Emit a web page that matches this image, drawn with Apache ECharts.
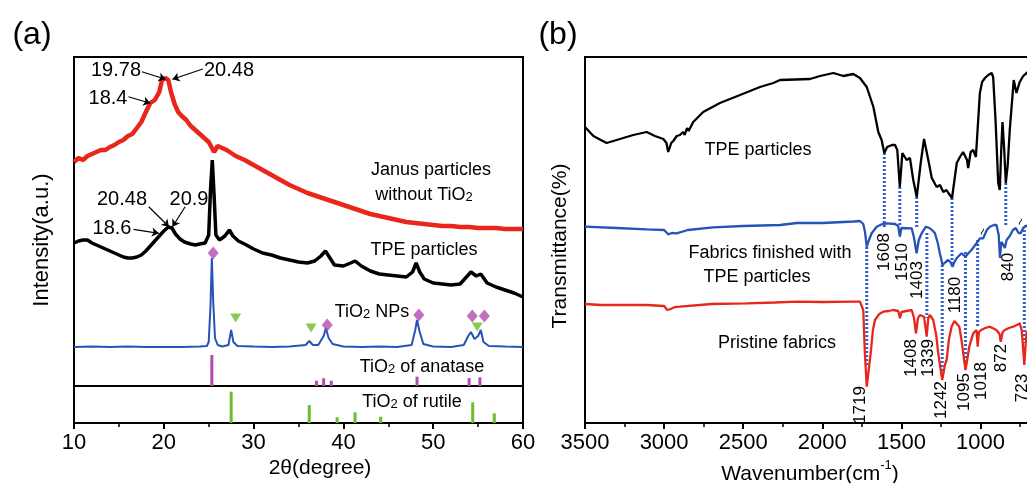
<!DOCTYPE html>
<html><head><meta charset="utf-8">
<script src="https://cdn.jsdelivr.net/npm/echarts@6/dist/echarts.min.js"></script>
<style>html,body{margin:0;padding:0;background:#fff}#c{width:1027px;height:483px}</style>
</head><body><div id="c"></div>
<script>
// ---------- Panel (a): XRD, [2theta (deg), intensity (a.u.)] ----------
const janusXRD = [[10,224],[10.5,228],[11,226],[11.5,230],[12,232],[12.5,234],[13,236],[13.5,236],[14,239],[14.5,241],[15,244],[15.5,246],[16,250],[16.5,252],[17,258],[17.5,264],[18,274],[18.5,283],[19,286],[19.5,294],[19.8,306],[20.2,308],[20.5,306],[20.8,294],[21.2,282],[21.6,274],[22,270],[22.5,266],[23,260],[23.5,256],[24,252],[24.5,248],[25,244],[25.6,234],[26,240],[27,236],[28,230],[29,226],[30,221],[31,216],[32,211],[33,206],[34,201],[35,197],[36,193],[37,190],[38,187],[39,184],[40,181],[41,178],[42,175],[43,172],[44,170],[45,168],[46,166],[47,164],[48,163],[49,162],[50,161],[51,160],[52,160],[53,159],[54,159],[55,158],[56,158],[57,158],[58,157],[59,157],[60,157]];
const tpeXRD = [[10,143],[10.5,145],[11,146],[11.5,146],[12,143],[12.5,141],[13,139],[13.5,137],[14,135],[14.5,133],[15,131],[15.5,129],[16,128],[16.5,128],[17,129],[17.5,131],[18,135],[18.6,141],[19,145],[19.5,150],[20,155],[20.5,159],[20.9,158],[21.3,152],[21.8,147],[22.3,144],[23,142],[23.5,141],[24,142],[24.6,143],[25,151],[25.2,196],[25.4,226],[25.6,191],[25.8,151],[26.2,146],[26.8,150],[27.3,156],[27.7,150],[28.3,145],[29,142],[30,137],[31,133],[32,131],[33,128],[34,126],[35,124],[36,123],[36.8,125],[37.5,130],[38,135],[38.5,128],[39,121],[40,120],[40.8,123],[41.3,125],[42,120],[43,115],[44,112],[45,111],[46,110],[47,109],[47.7,114],[48.1,123],[48.5,114],[49,107],[50,103],[51,102],[52,101],[53,102],[53.6,108],[54.2,114],[54.8,110],[55.3,112],[56,103],[57,99],[58,96],[59,93],[60,89]];
const tio2XRD = [[10,39],[12,39.5],[14,39],[16,39.5],[18,39],[20,39],[22,39],[24,39.5],[24.8,40],[25,44],[25.2,80],[25.35,128],[25.5,85],[25.7,48],[26,41],[26.5,39.5],[27.2,41],[27.5,56],[27.75,44],[28.2,40],[30,39.5],[32,39],[34,39.5],[35.8,41],[36.2,45],[36.6,41],[37.2,41],[37.8,50],[38.05,58],[38.35,48],[38.8,42],[40,39.5],[42,39],[44,39.5],[46,39],[47.6,41],[48,56],[48.2,66],[48.5,54],[48.9,42],[50,39.5],[52,39],[53.4,41],[53.9,50],[54.2,54],[54.6,47],[55,50],[55.3,56],[55.6,44],[56.2,40],[58,39.5],[60,39]];
const anataseMarks = [[25.5,133],[38.2,61],[48.4,71],[54.35,70],[55.7,70]];
const rutileMarks = [[28.0,68],[36.4,58],[54.9,59]];
const anataseRef = [[25.35,31],[37.0,5.3],[37.8,7.7],[38.65,5.3],[48.2,9.3],[54.0,8],[55.2,8.7]];
const rutileRef = [[27.5,31.3],[36.2,18],[39.3,5.7],[41.3,10.7],[44.15,6.3],[54.4,20.7],[56.8,9.7]];
const xrdTicks = [10, 20, 30, 40, 50, 60];
// peak annotations: [label, [from], [to]]
const xrdArrows = [
  ['19.78', [17.57,314.3], [20.2,306.7]],
  ['20.48', [24.34,317], [20.96,306.7]],
  ['18.4',  [16.06,289.3], [18.5,282.7]],
  ['20.48', [18.32,179.3], [20.58,159.3]],
  ['20.9',  [22.38,179.3], [20.96,159.3]],
  ['18.6',  [16.63,156.7], [19.45,152.7]]
];

// ---------- Panel (b): FTIR, [wavenumber (cm-1), transmittance (a.u.)] ----------
const tpeFTIR = [[3500,296],[3447,287],[3400,283],[3363,280],[3279,284],[3195,288],[3110,291],[3058,287],[3005,284],[2985,280],[2974,271],[2955,280],[2942,282],[2920,287],[2900,288],[2880,291],[2870,288],[2855,295],[2845,292],[2816,301],[2753,311],[2647,320],[2520,328],[2394,336],[2310,340],[2267,343],[2078,344],[2014,347],[1930,350],[1867,347],[1804,349],[1762,345],[1719,336],[1677,316],[1646,291],[1625,283],[1608,270],[1590,276],[1560,278],[1540,278],[1526,273],[1510,236],[1494,270],[1467,263],[1446,265],[1425,243],[1403,226],[1378,260],[1357,284],[1330,263],[1308,245],[1277,236],[1256,238],[1235,231],[1215,233],[1203,230],[1180,225],[1150,260],[1130,266],[1110,271],[1099,273],[1085,263],[1078,255],[1062,271],[1046,273],[1029,266],[1004,330],[990,341],[972,345],[951,348],[930,350],[920,346],[905,303],[888,240],[878,233],[869,273],[861,301],[850,273],[840,240],[828,258],[815,293],[790,343],[773,330],[752,341],[730,347],[709,350],[700,351]];
const finishedFTIR = [[3500,196.3],[3300,195],[3110,193.7],[3000,193],[2974,188.7],[2950,190],[2921,189.7],[2850,193],[2690,195.7],[2500,197],[2267,198],[2160,200],[2152,199],[2000,200],[1800,201.5],[1762,202],[1741,199],[1730,191],[1719,176.3],[1705,183],[1688,189.7],[1656,196.3],[1620,199],[1593,199.7],[1540,199],[1520,197],[1510,186.3],[1500,195],[1488,196.3],[1435,194.7],[1420,185],[1404,169.7],[1390,183],[1372,189.7],[1345,196.3],[1320,194.7],[1300,192],[1288,189.7],[1270,180],[1257,169.7],[1240,158],[1220,161],[1204,163],[1190,161],[1177,156.3],[1165,161],[1151,164.7],[1120,169.7],[1095,166.3],[1075,170],[1057,173],[1025,179.7],[1004,184.7],[983,184.7],[960,193],[941,196.3],[915,198],[899,198],[885,188],[877,165],[868,181],[855,178],[846,175],[835,183],[815,187],[795,193],[777,195],[760,190],[745,190],[730,195],[715,197],[700,197]];
const pristineFTIR = [[3500,119],[3400,118],[3200,118],[3110,118],[3000,117],[2980,113],[2974,111.3],[2960,114],[2930,116],[2900,116.3],[2700,119],[2478,119.7],[2300,120.5],[2161,121.3],[2000,121],[1800,121.3],[1762,121.3],[1751,119.7],[1741,113],[1731,70],[1719,36.3],[1694,70],[1680,93],[1667,103],[1640,109],[1614,111.3],[1580,112],[1551,113],[1520,112],[1509,104.7],[1500,111],[1488,111.3],[1435,113],[1420,105],[1408,89.7],[1395,105],[1383,108],[1357,106.3],[1340,86.3],[1330,105],[1320,108],[1299,103],[1280,88],[1267,69.7],[1242,43],[1225,58],[1214,63],[1200,83],[1183,96.3],[1165,102],[1155,103],[1134,96.3],[1120,83],[1109,69.7],[1095,53],[1080,67],[1071,76.3],[1046,89.7],[1025,93],[1018,76.3],[1010,91],[996,93],[970,95],[941,96.3],[899,93],[880,89],[872,81.3],[860,91],[846,93],[820,95],[794,96.3],[770,98],[752,99.7],[740,93],[733,79.7],[723,58],[715,78],[709,89.7],[700,93]];
// dotted guide lines: [wavenumber, upper value, lower value]
const ftirGuides = [[1608,270,196],[1510,236,198],[1403,226,196],[1180,225,160],[840,240,197],[1719,176,56],[1339,190,105],[1242,158,46],[1095,171,56],[1018,183,96],[723,193,80]];
// band labels: [text, wavenumber of label, label centre value]
const ftirBandLabels = [['1608',1608,171],['1510',1497,161],['1403',1398,143],['1180',1159,128],['840',825,156],['1719',1760,18],['1408',1438,65],['1339',1333,65],['1242',1247,23],['1095',1102,31],['1018',997,42],['872',870,65],['723',733,35]];
const ftirTicks = [3500, 3000, 2500, 2000, 1500, 1000];

const FONT = '"Liberation Sans", Arial, Helvetica, sans-serif';
const RED = '#e8261c', BLUE = '#2653b8', BLACK = '#000', PURPLE = '#b04cae', GREEN = '#6cbd2b', GUIDE = '#2f5fcc';

function T(x, y, text, size, extra) {
  return Object.assign({type: 'text', x: x, y: y, silent: true, z: 100,
    style: {text: text, fill: '#000', font: size + 'px ' + FONT, textAlign: 'center', textVerticalAlign: 'middle'}}, extra || {});
}
function R(x, y, text, extra) {
  return Object.assign({type: 'text', x: x, y: y, silent: true, z: 100,
    style: {text: text, fill: '#000', textAlign: 'center', textVerticalAlign: 'middle',
      rich: {
        m: {fontSize: 18, fontFamily: FONT, lineHeight: 22, verticalAlign: 'bottom', fill: '#000'},
        s: {fontSize: 13, fontFamily: FONT, lineHeight: 12, verticalAlign: 'bottom', fill: '#000'},
        u: {fontSize: 13, fontFamily: FONT, lineHeight: 12, verticalAlign: 'top', fill: '#000'},
        n: {fontSize: 21, fontFamily: FONT, lineHeight: 26, verticalAlign: 'bottom', fill: '#000'}
      }}}, extra || {});
}

const axisCommon = {
  axisLine: {show: true, onZero: false, lineStyle: {color: '#000', width: 2}},
  axisTick: {show: true, inside: false, length: 6, lineStyle: {color: '#000', width: 2}},
  minorTick: {show: true, splitNumber: 2, length: 4, lineStyle: {color: '#000', width: 1.5}},
  axisLabel: {color: '#000', fontSize: 22, fontFamily: FONT, margin: 9},
  splitLine: {show: false}, minorSplitLine: {show: false}
};

const barRender = color => (params, api) => {
  const p0 = api.coord([api.value(0), 0]);
  const p1 = api.coord([api.value(0), api.value(1)]);
  return {type: 'rect', shape: {x: p0[0] - 1.5, y: p1[1], width: 3, height: p0[1] - p1[1]}, style: {fill: color}};
};

const chart = echarts.init(document.getElementById('c'), null, {renderer: 'canvas'});
const graphic = [
  T(32, 35, '(a)', 32), T(558, 35, '(b)', 32),
  T(431, 170, 'Janus particles', 18),
  R(424, 193, '{m|without TiO}{s|2}'),
  T(424, 250, 'TPE particles', 18),
  R(372, 310, '{m|TiO}{s|2}{m| NPs}'),
  R(422, 365, '{m|TiO}{s|2}{m| of anatase}'),
  R(412, 400, '{m|TiO}{s|2}{m| of rutile}'),
  T(116, 70, '19.78', 20), T(229, 70, '20.48', 20), T(108, 98, '18.4', 20),
  T(122, 199, '20.48', 20), T(189, 199, '20.9', 20), T(112, 228, '18.6', 20),
  T(42, 240, 'Intensity(a.u.)', 22, {rotation: Math.PI / 2}),
  T(320, 468, '2\u03b8(degree)', 21),
  T(758, 150, 'TPE particles', 18),
  T(770, 253, 'Fabrics finished with', 18),
  T(757, 277, 'TPE particles', 18),
  T(777, 343, 'Pristine fabrics', 18),
  T(560, 246, 'Transmittance(%)', 21, {rotation: Math.PI / 2}),
  R(810, 472, '{n|Wavenumber(cm}{u|-1}{n|)}'),
  T(983, 232, '~', 13, {rotation: Math.PI / 2.6}),
  T(1021, 222, '~', 13, {rotation: Math.PI / 2.6})
];

const gridBase = {show: true, borderColor: '#000', borderWidth: 2, containLabel: false, outerBoundsMode: 'none'};
const option = {
  animation: false,
  backgroundColor: '#fff',
  grid: [
    Object.assign({left: 74, top: 57, width: 449, height: 329}, gridBase),
    Object.assign({left: 74, top: 386, width: 449, height: 37}, gridBase),
    Object.assign({left: 585, top: 57, width: 474.6, height: 366}, gridBase)
  ],
  xAxis: [
    {gridIndex: 0, type: 'value', min: 10, max: 60, show: false},
    Object.assign({gridIndex: 1, type: 'value', min: 10, max: 60, interval: 10}, axisCommon,
      {axisLabel: Object.assign({}, axisCommon.axisLabel, {formatter: v => xrdTicks.indexOf(v) >= 0 ? String(v) : ''})}),
    Object.assign({gridIndex: 2, type: 'value', min: 500, max: 3500, interval: 500, inverse: true}, axisCommon,
      {axisLabel: Object.assign({}, axisCommon.axisLabel, {formatter: v => ftirTicks.indexOf(v) >= 0 ? String(v) : ''})})
  ],
  yAxis: [
    {gridIndex: 0, type: 'value', min: 0, max: 329, show: false},
    {gridIndex: 1, type: 'value', min: 0, max: 37, show: false},
    {gridIndex: 2, type: 'value', min: 0, max: 366, show: false}
  ],
  series: [
    {type: 'line', xAxisIndex: 0, yAxisIndex: 0, data: janusXRD, showSymbol: false, lineStyle: {color: RED, width: 4.5}, silent: true, z: 3,
      markLine: {silent: true, symbol: ['none', 'arrow'], symbolSize: 7, label: {show: false},
        lineStyle: {color: '#000', width: 1.2, type: 'solid'}, animation: false,
        data: xrdArrows.map(a => [{coord: a[1]}, {coord: a[2]}])}},
    {type: 'line', xAxisIndex: 0, yAxisIndex: 0, data: tpeXRD, showSymbol: false, lineStyle: {color: BLACK, width: 3.5}, silent: true, z: 3},
    {type: 'line', xAxisIndex: 0, yAxisIndex: 0, data: tio2XRD, showSymbol: false, lineStyle: {color: BLUE, width: 2}, silent: true, z: 3},
    {type: 'scatter', xAxisIndex: 0, yAxisIndex: 0, data: anataseMarks, symbol: 'diamond', symbolSize: [11, 13], itemStyle: {color: PURPLE}, silent: true, z: 4},
    {type: 'scatter', xAxisIndex: 0, yAxisIndex: 0, data: rutileMarks, symbol: 'triangle', symbolRotate: 180, symbolSize: [11, 9], itemStyle: {color: GREEN}, silent: true, z: 4},
    {type: 'custom', xAxisIndex: 0, yAxisIndex: 0, data: anataseRef, renderItem: barRender(PURPLE), silent: true, encode: {x: 0, y: 1}},
    {type: 'custom', xAxisIndex: 1, yAxisIndex: 1, data: rutileRef, renderItem: barRender(GREEN), silent: true, encode: {x: 0, y: 1}},
    {type: 'custom', xAxisIndex: 2, yAxisIndex: 2, data: ftirGuides, silent: true, z: 2, encode: {x: 0, y: [1, 2]},
      renderItem: (params, api) => {
        const a = api.coord([api.value(0), api.value(1)]);
        const b = api.coord([api.value(0), api.value(2)]);
        return {type: 'line', shape: {x1: a[0], y1: a[1], x2: b[0], y2: b[1]}, style: {stroke: GUIDE, lineWidth: 3, lineDash: [2, 2]}};
      }},
    {type: 'line', xAxisIndex: 2, yAxisIndex: 2, data: tpeFTIR, showSymbol: false, lineStyle: {color: BLACK, width: 2.3}, silent: true, z: 3},
    {type: 'line', xAxisIndex: 2, yAxisIndex: 2, data: finishedFTIR, showSymbol: false, lineStyle: {color: BLUE, width: 2.3}, silent: true, z: 3},
    {type: 'line', xAxisIndex: 2, yAxisIndex: 2, data: pristineFTIR, showSymbol: false, lineStyle: {color: RED, width: 2.3}, silent: true, z: 3},
    {type: 'custom', xAxisIndex: 2, yAxisIndex: 2, data: ftirBandLabels.map(b => [b[1], b[2], b[0]]), silent: true, z: 5,
      encode: {x: 0, y: 1},
      renderItem: (params, api) => {
        const p = api.coord([api.value(0), api.value(1)]);
        return {type: 'text', x: p[0], y: p[1], rotation: Math.PI / 2,
          style: {text: String(ftirBandLabels[params.dataIndex][0]), font: '17px ' + FONT, fill: '#000', textAlign: 'center', textVerticalAlign: 'middle'}};
      }}
  ],
  graphic: graphic
};
chart.setOption(option);
</script>
</body></html>
